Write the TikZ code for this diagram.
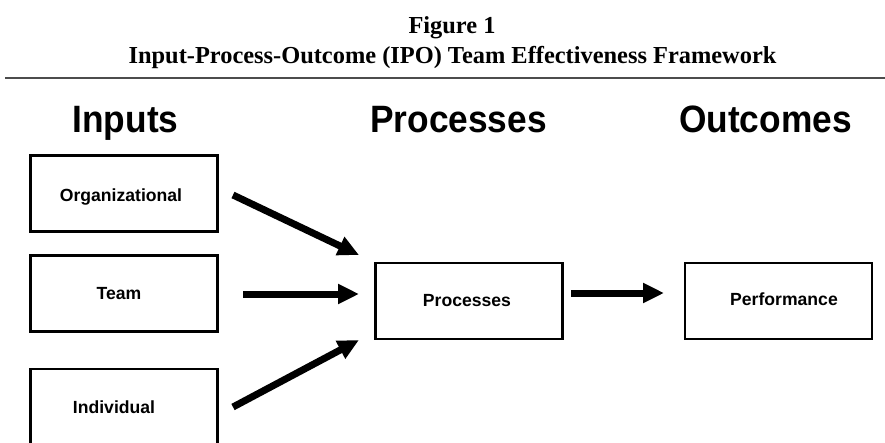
\documentclass[tikz,border=0pt]{standalone}
\usepackage{fontspec}
\setmainfont{Liberation Serif}
\newfontfamily\helv{Liberation Sans}
\usetikzlibrary{arrows.meta}
\begin{document}
\begin{tikzpicture}[x=1pt,y=-1pt,
  box/.style={draw=black,line width=2.4pt,minimum width=187pt,minimum height=76pt,inner sep=0pt},
  boxtext/.style={font=\helv\bfseries\fontsize{17.6}{20}\selectfont,inner sep=0pt,anchor=base},
  head/.style={font=\helv\bfseries\fontsize{35.3}{40}\selectfont,inner sep=0pt,anchor=base},
  ttl/.style={font=\bfseries\fontsize{24.4}{28}\selectfont,inner sep=0pt,anchor=base},
  bigarrow/.style={line width=7pt,-{Triangle[length=21pt,width=19pt]}}]
\useasboundingbox (0,0) rectangle (885,442);
\clip (0,0) rectangle (885,442);
\fill[white] (0,0) rectangle (885,442);
\node[ttl] (fig) at (452,33) {Figure 1};
\node[ttl] (title) at (452.5,63) {Input-Process-Outcome (IPO) Team Effectiveness Framework};
\coordinate (rl) at (5,78);
\coordinate (rr) at (885,78);
\draw[line width=2pt,black!70] (rl) -- (rr);
\node[head] (hin) at (125.5,132) {\scalebox{1}[1.08]{Inputs}};
\node[head] (hpr) at (458.5,132) {\scalebox{1}[1.08]{Processes}};
\node[head] (hout) at (765.5,132) {\scalebox{1}[1.08]{Outcomes}};
\node[box] (org) at (124,193.5) {};
\node[box] (team) at (124,293.5) {};
\node[box] (ind) at (124,407) {};
\node[box] (proc) at (469,301) {};
\node[box] (perf) at (778.5,301) {};
\node[boxtext] (orgt) at (121,201) {Organizational};
\node[boxtext] (teamt) at (119,299) {Team};
\node[boxtext] (indt) at (114,413) {Individual};
\node[boxtext] (proct) at (467,306) {Processes};
\node[boxtext] (perft) at (784,305) {Performance};
\coordinate (a1s) at (233,195);
\coordinate (a1e) at (359,255);
\coordinate (a2s) at (243,294);
\coordinate (a2e) at (359,294);
\coordinate (a3s) at (233,407);
\coordinate (a3e) at (359,340);
\coordinate (a4s) at (571,293);
\coordinate (a4e) at (664,293);
\draw[bigarrow] (a1s) -- (a1e);
\draw[bigarrow] (a2s) -- (a2e);
\draw[bigarrow] (a3s) -- (a3e);
\draw[bigarrow] (a4s) -- (a4e);
\end{tikzpicture}
\end{document}
